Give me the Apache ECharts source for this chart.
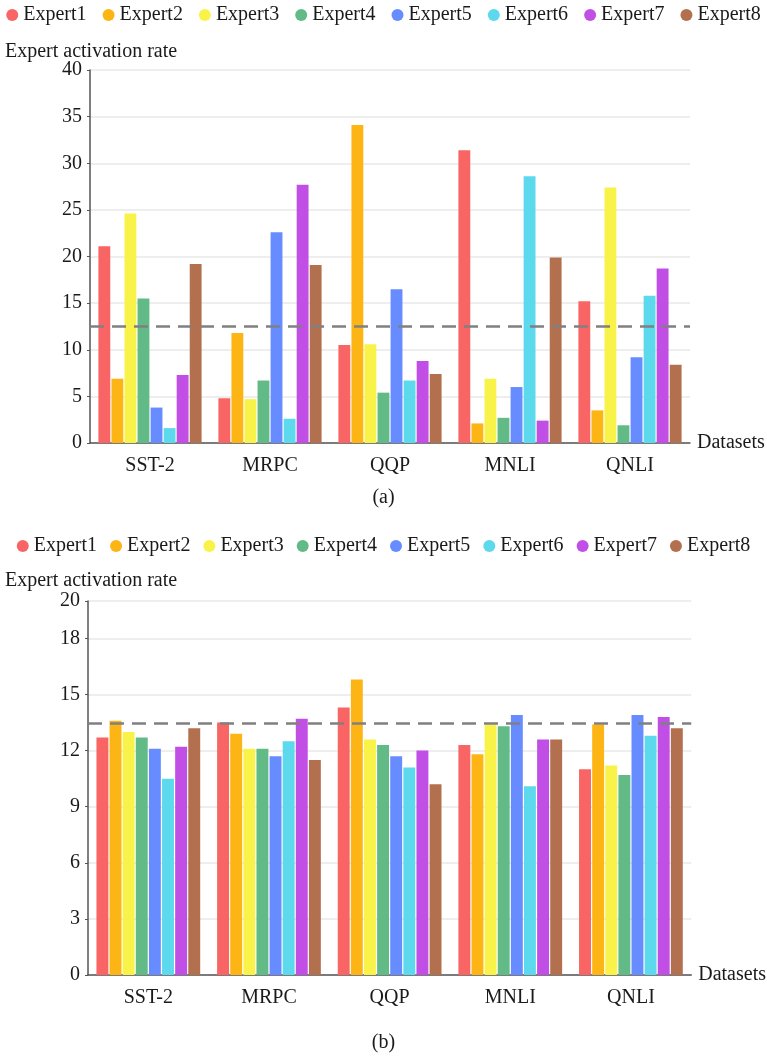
<!DOCTYPE html>
<html>
<head>
<meta charset="UTF-8">
<title>Expert activation rate</title>
<script src="https://cdn.jsdelivr.net/npm/echarts@6/dist/echarts.min.js"></script>
<style>
html, body { margin: 0; padding: 0; background: #fff; }
#main { width: 767px; height: 1057px; }
</style>
</head>
<body>
<div id="main"></div>
<script>
// datasets and experts
var datasets = ['SST-2', 'MRPC', 'QQP', 'MNLI', 'QNLI'];
var experts = ['Expert1', 'Expert2', 'Expert3', 'Expert4', 'Expert5', 'Expert6', 'Expert7', 'Expert8'];
var colors = ['#f96464', '#fdb516', '#f9f349', '#62bb86', '#668cff', '#5cd9ec', '#c14fe6', '#b3704e'];

// (a) one array per expert, values over datasets
var rateA1 = [21.1, 4.8, 10.5, 31.4, 15.2];
var rateA2 = [6.9, 11.8, 34.1, 2.1, 3.5];
var rateA3 = [24.6, 4.7, 10.6, 6.9, 27.4];
var rateA4 = [15.5, 6.7, 5.4, 2.7, 1.9];
var rateA5 = [3.8, 22.6, 16.5, 6.0, 9.2];
var rateA6 = [1.6, 2.6, 6.7, 28.6, 15.8];
var rateA7 = [7.3, 27.7, 8.8, 2.4, 18.7];
var rateA8 = [19.2, 19.1, 7.4, 19.9, 8.4];
var avgA = 12.5;

// (b)
var rateB1 = [12.7, 13.5, 14.3, 12.3, 11.0];
var rateB2 = [13.6, 12.9, 15.8, 11.8, 13.4];
var rateB3 = [13.0, 12.1, 12.6, 13.4, 11.2];
var rateB4 = [12.7, 12.1, 12.3, 13.3, 10.7];
var rateB5 = [12.1, 11.7, 11.7, 13.9, 13.9];
var rateB6 = [10.5, 12.5, 11.1, 10.1, 12.8];
var rateB7 = [12.2, 13.7, 12.0, 12.6, 13.8];
var rateB8 = [13.2, 11.5, 10.2, 12.6, 13.2];
var avgB = 13.45;

var seriesA = [rateA1, rateA2, rateA3, rateA4, rateA5, rateA6, rateA7, rateA8];
var seriesB = [rateB1, rateB2, rateB3, rateB4, rateB5, rateB6, rateB7, rateB8];

var font = '"Liberation Serif", "Times New Roman", serif';
var txt = '#1a1a1a';

function makeSeries(list, idx, avg) {
    return list.map(function (d, i) {
        var s = {
            name: experts[i],
            type: 'bar',
            xAxisIndex: idx,
            yAxisIndex: idx,
            data: d,
            barGap: '10%',
            barCategoryGap: '14%',
            itemStyle: { color: colors[i] }
        };
        if (i === 0) {
            s.markLine = {
                silent: true,
                symbol: 'none',
                label: { show: false },
                lineStyle: { color: '#808080', type: [14, 8], width: 2.5 },
                data: [{ yAxis: avg }]
            };
        }
        return s;
    });
}

function xAx(idx) {
    return {
        type: 'category',
        gridIndex: idx,
        data: datasets,
        name: 'Datasets',
        nameGap: 7,
        nameTextStyle: { fontFamily: font, fontSize: 20, color: txt },
        axisLine: { lineStyle: { color: '#555', width: 1.5 } },
        axisTick: { show: false },
        axisLabel: { fontFamily: font, fontSize: 20, color: txt, margin: 13 }
    };
}

function yAx(idx, max, interval) {
    return {
        type: 'value',
        gridIndex: idx,
        min: 0,
        max: max,
        interval: interval,
        axisLine: { show: true, lineStyle: { color: '#555', width: 1.5 } },
        axisTick: { show: true, length: 3, lineStyle: { color: '#555' } },
        splitLine: { lineStyle: { color: '#e8e8e8', width: 1.5 } },
        axisLabel: { fontFamily: font, fontSize: 20, color: txt, margin: 8 }
    };
}

function legend(top, gap) {
    return {
        top: top,
        left: 'center',
        icon: 'circle',
        itemWidth: 12,
        itemHeight: 12,
        itemGap: gap,
        data: experts,
        textStyle: { fontFamily: font, fontSize: 20, color: txt }
    };
}

var chart = echarts.init(document.getElementById('main'));
chart.setOption({
    animation: false,
    color: colors,
    title: [
        { text: 'Expert activation rate', left: 0, top: 37, textStyle: { fontFamily: font, fontSize: 20, fontWeight: 'normal', color: txt } },
        { text: '(a)', left: 'center', top: 483, textStyle: { fontFamily: font, fontSize: 20, fontWeight: 'normal', color: txt } },
        { text: 'Expert activation rate', left: 0, top: 566, textStyle: { fontFamily: font, fontSize: 20, fontWeight: 'normal', color: txt } },
        { text: '(b)', left: 'center', top: 1028, textStyle: { fontFamily: font, fontSize: 20, fontWeight: 'normal', color: txt } }
    ],
    legend: [legend(0, 16), legend(531, 13)],
    grid: [
        { left: 90, right: 77, top: 70, height: 373 },
        { left: 88, right: 74, top: 601, height: 374 }
    ],
    xAxis: [xAx(0), xAx(1)],
    yAxis: [yAx(0, 40, 5), yAx(1, 20, 3)],
    series: makeSeries(seriesA, 0, avgA).concat(makeSeries(seriesB, 1, avgB))
});
</script>
</body>
</html>
